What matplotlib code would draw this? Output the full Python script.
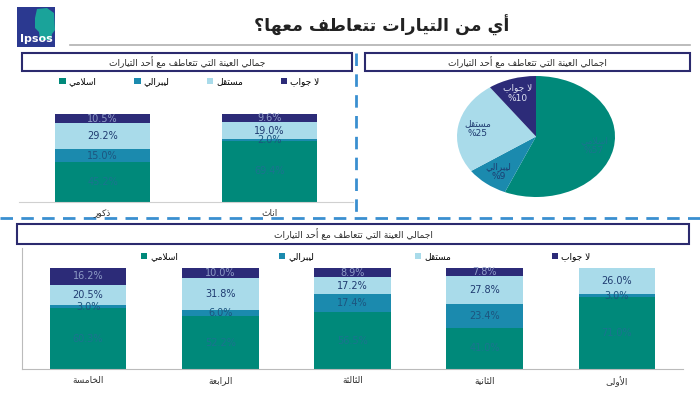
import matplotlib
matplotlib.use('Agg')
import matplotlib.pyplot as plt
import matplotlib.patches as patches
from matplotlib.patches import Patch
import numpy as np

W, H = 700, 394

# ---- данные ----
series_names = ['اسلامي', 'ليبرالي', 'مستقل', 'لا جواب']
series_colors = ['#00897a', '#1b8aae', '#a9dbea', '#2c2b78']
text_colors = ['#1b7390', '#1d557f', '#1f3b70', '#8e9cc6']

gender_cats = ['ذكور', 'اناث']
gender_islamic = [45.2, 69.4]
gender_liberal = [15.0, 2.0]
gender_indep = [29.2, 19.0]
gender_noans = [10.5, 9.6]

pie_values = [57, 9, 25, 10]

grade_cats = ['الخامسة', 'الرابعة', 'الثالثة', 'الثانية', 'الأولى']
grade_islamic = [60.3, 52.2, 56.5, 41.0, 71.0]
grade_liberal = [3.0, 6.0, 17.4, 23.4, 3.0]
grade_indep = [20.5, 31.8, 17.2, 27.8, 26.0]
grade_noans = [16.2, 10.0, 8.9, 7.8, 0.0]

title = 'أي من التيارات تتعاطف معها؟'
box_left = 'جمالي العينة التي تتعاطف مع أحد التيارات'
box_right = 'اجمالي العينة التي تتعاطف مع أحد التيارات'
box_bottom = 'اجمالي العينة التي تتعاطف مع أحد التيارات'

# ---- простая арабская форма букв (matplotlib не делает shaping) ----
DUAL = {'ب': 0xFE8F, 'ت': 0xFE95, 'ث': 0xFE99, 'ج': 0xFE9D, 'ح': 0xFEA1,
        'خ': 0xFEA5, 'س': 0xFEB1, 'ش': 0xFEB5, 'ص': 0xFEB9, 'ض': 0xFEBD,
        'ط': 0xFEC1, 'ظ': 0xFEC5, 'ع': 0xFEC9, 'غ': 0xFECD, 'ف': 0xFED1,
        'ق': 0xFED5, 'ك': 0xFED9, 'ل': 0xFEDD, 'م': 0xFEE1, 'ن': 0xFEE5,
        'ه': 0xFEE9, 'ي': 0xFEF1, 'ئ': 0xFE89}
RIGHT = {'ا': 0xFE8D, 'أ': 0xFE83, 'إ': 0xFE87, 'آ': 0xFE81, 'د': 0xFEA9,
         'ذ': 0xFEAB, 'ر': 0xFEAD, 'ز': 0xFEAF, 'و': 0xFEED, 'ة': 0xFE93,
         'ى': 0xFEEF, 'ؤ': 0xFE85}
LAM_ALEF = {'ا': 0xFEFB, 'أ': 0xFEF7, 'إ': 0xFEF9, 'آ': 0xFEF5}


def shape_line(s):
    units = []
    i = 0
    while i < len(s):
        c = s[i]
        if c == 'ل' and i + 1 < len(s) and s[i + 1] in LAM_ALEF:
            units.append((LAM_ALEF[s[i + 1]], False))
            i += 2
            continue
        if c in DUAL:
            units.append((DUAL[c], True))
        elif c in RIGHT:
            units.append((RIGHT[c], False))
        else:
            units.append((c, None))
        i += 1
    out = []
    for k, (g, dual) in enumerate(units):
        if dual is None:
            out.append(g)
            continue
        prev = units[k - 1] if k > 0 else None
        nxt = units[k + 1] if k + 1 < len(units) else None
        jp = prev is not None and prev[1] is True
        jn = dual and nxt is not None and nxt[1] is not None
        if jp and jn:
            cp = g + 3
        elif jn:
            cp = g + 2
        elif jp:
            cp = g + 1
        else:
            cp = g
        out.append(chr(cp))
    return ''.join(out)[::-1]


def ar(s):
    lines = []
    for line in s.split('\n'):
        if any('\u0600' <= ch <= '\u06ff' for ch in line):
            lines.append(shape_line(line))
        else:
            lines.append(line)
    return '\n'.join(lines)


fig = plt.figure(figsize=(W / 100, H / 100), dpi=100)
fig.patch.set_facecolor('white')


def px_axes(x0, y0, x1, y1, **kw):
    return fig.add_axes([x0 / W, 1 - y1 / H, (x1 - x0) / W, (y1 - y0) / H], **kw)


# общий слой для рамок, линий, логотипа
bg = px_axes(0, 0, W, H)
bg.set_xlim(0, W)
bg.set_ylim(H, 0)
bg.axis('off')

# логотип Ipsos
bg.add_patch(patches.Rectangle((17, 7), 38, 40, facecolor='#2b3990', edgecolor='none'))
bg.add_patch(patches.Polygon([(37, 9), (47, 8), (54, 13), (55, 30), (52, 34), (51, 40),
                              (40, 40), (39, 32), (35, 28), (35, 18)],
                             closed=True, facecolor='#1aa39a', edgecolor='none'))
bg.text(36, 39, 'Ipsos', color='white', fontsize=8, fontweight='bold',
        ha='center', va='center')

bg.text(382, 25, ar(title), fontsize=12.5, fontweight='bold', color='#222222',
        ha='center', va='center')
bg.plot([70, 690], [45, 45], color='#b0b0b0', lw=1.2)

# заголовки панелей
for (x0, y0, x1, y1, txt) in [(22, 53, 352, 71, box_left),
                              (365, 53, 690, 71, box_right),
                              (17, 224, 689, 244, box_bottom)]:
    bg.add_patch(patches.Rectangle((x0, y0), x1 - x0, y1 - y0, facecolor='white',
                                   edgecolor='#2b2a6e', lw=1.5))
    bg.text((x0 + x1) / 2, (y0 + y1) / 2 + 0.5, ar(txt), fontsize=6.5, color='#2a2a2a',
            ha='center', va='center')

# пунктирные разделители
bg.plot([356, 356], [53, 216], color='#3a8fd0', lw=2, dashes=(4.5, 3))
bg.plot([0, 700], [218, 218], color='#3a8fd0', lw=2, dashes=(4.5, 3))


def stacked(ax, cats, series, width):
    x = np.arange(len(cats))
    bottom = np.zeros(len(cats))
    for vals, col, tcol in zip(series, series_colors, text_colors):
        vals = np.array(vals)
        ax.bar(x, vals, width, bottom=bottom, color=col, edgecolor='none')
        for xi, b, v in zip(x, bottom, vals):
            if v > 0:
                ax.text(xi, b + v / 2, f'{v:.1f}%', ha='center', va='center',
                        fontsize=7, color=tcol)
        bottom += vals
    ax.set_xticks(x)
    ax.set_xticklabels([ar(c) for c in cats], fontsize=6.5, color='#333333')
    ax.tick_params(axis='x', length=0, pad=5)
    ax.set_yticks([])
    ax.set_xlim(-0.5, len(cats) - 0.5)
    ax.patch.set_alpha(0)
    for s in ['top', 'right']:
        ax.spines[s].set_visible(False)


legend_handles = [Patch(facecolor=c, edgecolor='none') for c in series_colors]
legend_labels = [ar(n) for n in series_names]

# верх слева: по полу
ax1 = px_axes(19, 75, 353, 202)
stacked(ax1, gender_cats, [gender_islamic, gender_liberal, gender_indep, gender_noans], 0.57)
ax1.set_ylim(0, 144)
ax1.spines['left'].set_visible(False)
ax1.spines['bottom'].set_color('#d0d0d0')
ax1.legend(legend_handles, legend_labels, loc='center', bbox_to_anchor=(0.51, 0.945),
           ncol=4, frameon=False, fontsize=6.5, handlelength=0.7, handleheight=0.7,
           handletextpad=0.3, columnspacing=4.2)

# верх справа: круговая
ax2 = px_axes(457, 76, 615, 197)
pie_labels = [f'{ar(n)}\n%{v}' for n, v in zip(series_names, pie_values)]
wedges, texts = ax2.pie(pie_values, colors=series_colors, startangle=90, counterclock=False,
                        labels=pie_labels, labeldistance=0.75,
                        textprops=dict(fontsize=6.5, ha='center', va='center'))
for t, c in zip(texts, ['#1b7390', '#1d3f73', '#1f3b70', '#dfe3f2']):
    t.set_color(c)
ax2.set_aspect('auto')
ax2.set_xlim(-1, 1)
ax2.set_ylim(-1, 1)

# низ: по ступеням
ax3 = px_axes(22, 248, 683, 369)
stacked(ax3, grade_cats, [grade_islamic, grade_liberal, grade_indep, grade_noans], 0.58)
ax3.set_ylim(0, 120)
ax3.spines['left'].set_color('#bbbbbb')
ax3.spines['bottom'].set_color('#bbbbbb')
ax3.legend(legend_handles, legend_labels, loc='center', bbox_to_anchor=(0.52, 0.926),
           ncol=4, frameon=False, fontsize=6.5, handlelength=0.7, handleheight=0.7,
           handletextpad=0.3, columnspacing=11.2)

fig.savefig('out.png', dpi=100)
